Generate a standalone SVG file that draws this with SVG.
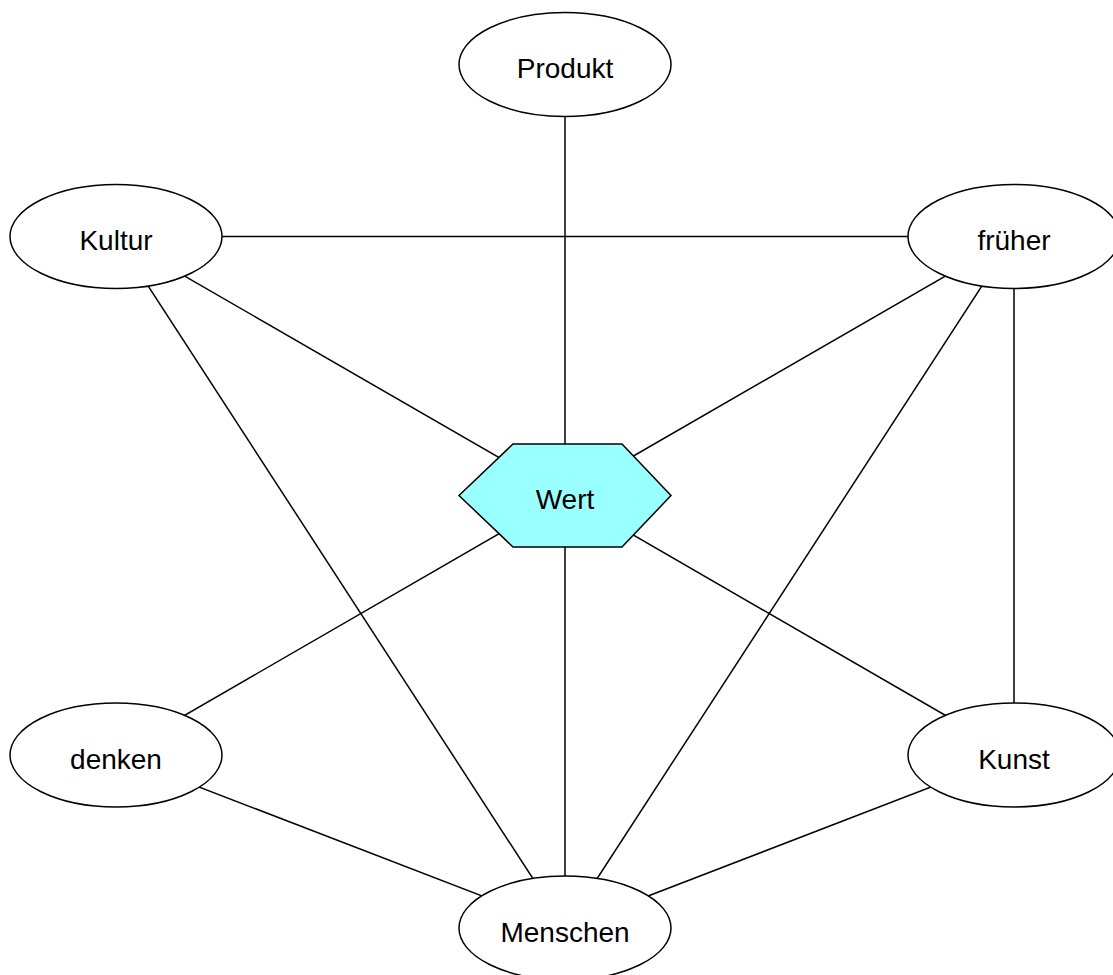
<svg xmlns="http://www.w3.org/2000/svg" width="1113" height="975" viewBox="0 0 1113 975">
<style>
.n{fill:#fff;stroke:#000;stroke-width:1.5}
.w{fill:#99ffff;stroke:#000;stroke-width:1.5}
.e{stroke:#000;stroke-width:1.5;fill:none}
text{font-family:"Liberation Sans",Arial,sans-serif;font-size:28px;text-anchor:middle;fill:#000}
</style>
<rect width="1113" height="975" fill="#fff"/>
<g id="edges">
<line class="e" x1="565" y1="64.5" x2="565" y2="495.5"/>
<line class="e" x1="116" y1="236.5" x2="1014" y2="236.5"/>
<line class="e" x1="116" y1="236.5" x2="565" y2="495.5"/>
<line class="e" x1="116" y1="236.5" x2="565" y2="928"/>
<line class="e" x1="1014" y1="236.5" x2="565" y2="495.5"/>
<line class="e" x1="1014" y1="236.5" x2="565" y2="928"/>
<line class="e" x1="1014" y1="236.5" x2="1014" y2="755"/>
<line class="e" x1="565" y1="495.5" x2="116" y2="755"/>
<line class="e" x1="565" y1="495.5" x2="565" y2="928"/>
<line class="e" x1="565" y1="495.5" x2="1014" y2="755"/>
<line class="e" x1="116" y1="755" x2="565" y2="928"/>
<line class="e" x1="1014" y1="755" x2="565" y2="928"/>
</g>
<g id="produkt"><ellipse class="n" cx="565" cy="64.5" rx="106" ry="52"/><text x="565" y="78">Produkt</text></g>
<g id="kultur"><ellipse class="n" cx="116" cy="236.5" rx="106" ry="52"/><text x="116" y="250">Kultur</text></g>
<g id="frueher"><ellipse class="n" cx="1014" cy="236.5" rx="106" ry="52"/><text x="1014" y="250">früher</text></g>
<g id="wert"><polygon class="w" points="459,495.5 513,444 622,444 671,495.5 622,547 513,547"/><text x="565" y="509">Wert</text></g>
<g id="denken"><ellipse class="n" cx="116" cy="755" rx="106" ry="52"/><text x="116" y="768.5">denken</text></g>
<g id="kunst"><ellipse class="n" cx="1014" cy="755" rx="106" ry="52"/><text x="1014" y="768.5">Kunst</text></g>
<g id="menschen"><ellipse class="n" cx="565" cy="928" rx="106" ry="52"/><text x="565" y="942">Menschen</text></g>
</svg>
